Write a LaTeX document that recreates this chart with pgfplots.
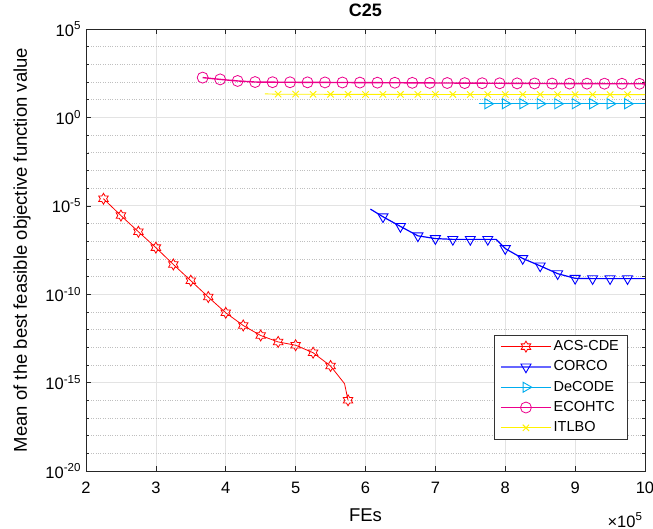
\documentclass[border=0pt]{standalone}
\usepackage{fontspec}
\setmainfont{Liberation Sans}
\usepackage{pgfplots}
\pgfplotsset{compat=1.18}
\newcommand\ff{\fontsize{14.5}{17}\selectfont}
\newcommand\ft{\fontsize{16.5}{19}\selectfont}
\newcommand\fl{\fontsize{18.5}{22}\selectfont}
\pgfdeclareplotmark{hexagram}{%
  \pgfpathmoveto{\pgfpointpolar{90}{\pgfplotmarksize}}%
  \pgfpathlineto{\pgfpointpolar{120}{0.577\pgfplotmarksize}}%
  \pgfpathlineto{\pgfpointpolar{150}{\pgfplotmarksize}}%
  \pgfpathlineto{\pgfpointpolar{180}{0.577\pgfplotmarksize}}%
  \pgfpathlineto{\pgfpointpolar{210}{\pgfplotmarksize}}%
  \pgfpathlineto{\pgfpointpolar{240}{0.577\pgfplotmarksize}}%
  \pgfpathlineto{\pgfpointpolar{270}{\pgfplotmarksize}}%
  \pgfpathlineto{\pgfpointpolar{300}{0.577\pgfplotmarksize}}%
  \pgfpathlineto{\pgfpointpolar{330}{\pgfplotmarksize}}%
  \pgfpathlineto{\pgfpointpolar{0}{0.577\pgfplotmarksize}}%
  \pgfpathlineto{\pgfpointpolar{30}{\pgfplotmarksize}}%
  \pgfpathlineto{\pgfpointpolar{60}{0.577\pgfplotmarksize}}%
  \pgfpathclose
  \pgfusepathqstroke
}
\begin{document}
\ff
\begin{tikzpicture}
\useasboundingbox (-86pt,-58pt) rectangle (567pt,471pt);
\begin{axis}[
  name=ax,
  width=559pt, height=442pt, scale only axis,
  xmin=2, xmax=10, ymin=1e-20, ymax=1e5, ymode=log,
  xtick={2,3,4,5,6,7,8,9,10},
  xticklabels={2,3,4,5,6,7,8,9,10},
  ytick={1e-20,1e-15,1e-10,1e-5,1,1e5},
  yticklabels={10\textsuperscript{-20},10\textsuperscript{-15},10\textsuperscript{-10},10\textsuperscript{-5},10\textsuperscript{0},10\textsuperscript{5}},
  minor ytick={1e-19,1e-18,1e-17,1e-16,1e-14,1e-13,1e-12,1e-11,1e-9,1e-8,1e-7,1e-6,1e-4,1e-3,1e-2,1e-1,1e1,1e2,1e3,1e4},
  xmajorgrids, ymajorgrids, yminorgrids,
  major grid style={gray!22, line width=0.6pt},
  minor grid style={gray!50, dotted, line width=0.6pt},
  tick align=inside, major tick length=5pt, minor tick length=3pt,
  axis line style={black!85}, every tick/.style={black!85, line width=0.5pt},
  tick label style={font=\ft},
  xticklabel style={yshift=-6pt},
  label style={font=\fl},
  title={C25}, title style={font=\fontsize{18}{21}\selectfont\bfseries, at={(axis description cs:0.5,1.028)}, anchor=center},
  xlabel={FEs}, xlabel style={at={(axis description cs:0.5,-0.1)}, anchor=center},
  ylabel={Mean of the best feasible objective function value},
  ylabel style={at={(axis description cs:-0.1145,0.5)}, anchor=center},
  legend style={at={(0.968,0.072)}, anchor=south east, draw=black!80, fill=white,
    inner xsep=6pt, inner ysep=3pt, row sep=4pt, font=\ff},
  legend cell align=left,
  legend image code/.code={\draw[mark repeat=2,mark phase=2] plot coordinates {(0pt,0pt)(25pt,0pt)(50pt,0pt)};},
]
% ACS-CDE
\addplot[red, line width=0.8pt, forget plot] coordinates {
(2.25,2.5e-5) (2.5,2.8e-6) (2.75,3.4e-7) (3.0,4.3e-8) (3.25,4.8e-9) (3.5,5.8e-10) (3.75,6.9e-11) (4.0,8.9e-12) (4.25,1.7e-12) (4.5,4.6e-13) (4.75,2.0e-13) (5.0,1.3e-13) (5.25,4.9e-14) (5.5,8.7e-15) (5.7,8.7e-16) (5.75,1.0e-16)};
\addplot[red, only marks, mark=hexagram, mark size=5.5pt, line width=0.8pt, forget plot] coordinates {
(2.25,2.5e-5) (2.5,2.8e-6) (2.75,3.4e-7) (3.0,4.3e-8) (3.25,4.8e-9) (3.5,5.8e-10) (3.75,6.9e-11) (4.0,8.9e-12) (4.25,1.7e-12) (4.5,4.6e-13) (4.75,2.0e-13) (5.0,1.3e-13) (5.25,4.9e-14) (5.5,8.7e-15) (5.75,1.0e-16)};
% CORCO
\addplot[blue, line width=1.2pt, forget plot] coordinates {
(6.07,6.5e-6) (6.25,2.4e-6) (6.5,6.8e-7) (6.75,2.0e-7) (7.0,1.4e-7) (7.25,1.26e-7) (7.5,1.26e-7) (7.75,1.26e-7) (7.87,1.26e-7) (8.0,3.8e-8) (8.25,1.05e-8) (8.5,4.0e-9) (8.75,1.45e-9) (9.0,7.9e-10) (9.25,7.6e-10) (9.5,7.6e-10) (9.75,7.6e-10) (10,7.6e-10)};
\addplot[blue, only marks, mark=triangle, mark size=5.8pt, mark options={rotate=180}, line width=0.9pt, forget plot] coordinates {
(6.25,2.4e-6) (6.5,6.8e-7) (6.75,2.0e-7) (7.0,1.4e-7) (7.25,1.26e-7) (7.5,1.26e-7) (7.75,1.26e-7) (8.0,3.8e-8) (8.25,1.05e-8) (8.5,4.0e-9) (8.75,1.45e-9) (9.0,7.9e-10) (9.25,7.6e-10) (9.5,7.6e-10) (9.75,7.6e-10)};
% DeCODE
\addplot[cyan, line width=1.4pt, forget plot] coordinates {
(7.62,5.9) (7.75,5.9) (8.0,5.9) (8.25,5.9) (8.5,5.9) (8.75,5.9) (9.0,5.9) (9.25,5.9) (9.5,5.9) (9.75,5.9) (10,5.9)};
\addplot[cyan, only marks, mark=triangle, mark size=5.8pt, mark options={rotate=-90}, line width=0.9pt, forget plot] coordinates {
(7.75,5.9) (8.0,5.9) (8.25,5.9) (8.5,5.9) (8.75,5.9) (9.0,5.9) (9.25,5.9) (9.5,5.9) (9.75,5.9)};
% ECOHTC
\addplot[magenta, line width=1.4pt, forget plot] coordinates {
(3.67,178) (3.92,141) (4.17,115) (4.42,100) (4.67,98) (4.92,97) (5.17,96) (5.42,95) (5.67,94) (5.92,93) (6.17,92) (6.42,91) (6.67,90) (6.92,89) (7.17,88) (7.42,87) (7.67,86) (7.92,85) (8.17,84) (8.42,83) (8.67,82) (8.92,81.5) (9.17,81) (9.42,80.5) (9.67,80) (9.92,79.5) (10,79.4)};
\addplot[magenta, only marks, mark=o, mark size=5.5pt, line width=0.8pt, forget plot] coordinates {
(3.67,178) (3.92,141) (4.17,115) (4.42,100) (4.67,98) (4.92,97) (5.17,96) (5.42,95) (5.67,94) (5.92,93) (6.17,92) (6.42,91) (6.67,90) (6.92,89) (7.17,88) (7.42,87) (7.67,86) (7.92,85) (8.17,84) (8.42,83) (8.67,82) (8.92,81.5) (9.17,81) (9.42,80.5) (9.67,80) (9.92,79.5)};
% ITLBO
\addplot[yellow, line width=0.9pt, forget plot] coordinates {
(4.56,21.4) (4.75,20.5) (5.0,20.4) (5.25,20.3) (5.5,20.2) (5.75,20.1) (6.0,20.0) (6.25,20.0) (6.5,19.9) (6.75,19.9) (7.0,19.8) (7.25,19.8) (7.5,19.7) (7.75,19.7) (8.0,19.6) (8.25,19.6) (8.5,19.6) (8.75,19.5) (9.0,19.5) (9.25,19.5) (9.5,19.5) (9.75,19.5) (10,19.5)};
\addplot[yellow, only marks, mark=x, mark size=4.5pt, line width=0.9pt, forget plot] coordinates {
(4.75,20.5) (5.0,20.4) (5.25,20.3) (5.5,20.2) (5.75,20.1) (6.0,20.0) (6.25,20.0) (6.5,19.9) (6.75,19.9) (7.0,19.8) (7.25,19.8) (7.5,19.7) (7.75,19.7) (8.0,19.6) (8.25,19.6) (8.5,19.6) (8.75,19.5) (9.0,19.5) (9.25,19.5) (9.5,19.5) (9.75,19.5)};
\addlegendimage{red, line width=0.8pt, mark=hexagram, mark size=5.5pt}
\addlegendentry{ACS-CDE}
\addlegendimage{blue!60, line width=1.4pt, mark=triangle, mark size=5.8pt, mark options={rotate=180, blue, line width=0.9pt}}
\addlegendentry{CORCO}
\addlegendimage{cyan, line width=1.2pt, mark=triangle, mark size=5.8pt, mark options={rotate=-90, line width=0.9pt}}
\addlegendentry{DeCODE}
\addlegendimage{magenta, line width=1.2pt, mark=o, mark size=5.5pt, mark options={line width=0.8pt}}
\addlegendentry{ECOHTC}
\addlegendimage{yellow, line width=0.9pt, mark=x, mark size=4.5pt}
\addlegendentry{ITLBO}
\end{axis}
\node[anchor=center, font=\ft] at ([xshift=-20pt,yshift=-49pt]ax.south east) {×10\textsuperscript{5}};
\end{tikzpicture}
\end{document}
